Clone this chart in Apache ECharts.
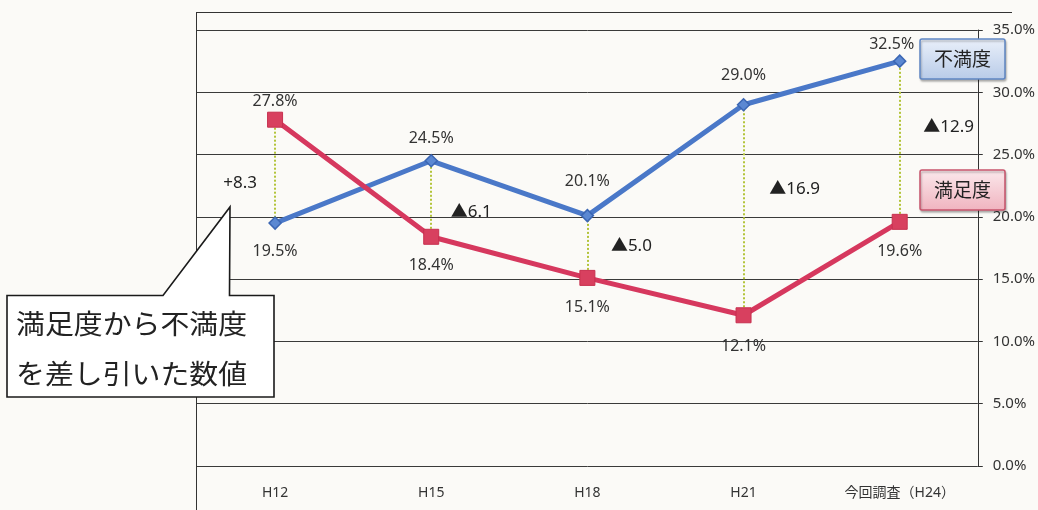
<!DOCTYPE html>
<html><head><meta charset="utf-8">
<script src="https://cdn.jsdelivr.net/npm/echarts@6/dist/echarts.min.js"></script>
<style>html,body{margin:0;padding:0;background:#fbfaf7;}#c{width:1038px;height:510px;}</style>
</head><body><div id="c"></div>
<script>
var categories = ['H12', 'H15', 'H18', 'H21', '今回調査（H24）'];
var dissatisfaction = [19.5, 24.5, 20.1, 29.0, 32.5];   // 不満度
var satisfaction = [27.8, 18.4, 15.1, 12.1, 19.6];      // 満足度
var yTicks = [0, 5, 10, 15, 20, 25, 30, 35];

// styling: label placement per point
var blueLabelPos = ['bottom', 'top', 'top', 'top', 'top'];
var blueLabelOff = [[0, 9], [0, -3], [0, -14], [0, -10], [-8, 3]];
var redLabelPos = ['top', 'bottom', 'bottom', 'bottom', 'bottom'];
var redLabelOff = [[0, 3], [0, 8], [0, 9], [0, 10], [0, 9]];
var diffOff = [[-35, 12], [40, 13], [44, -1], [51, -21], [49, -14]];

var FONT = '"Noto Sans", "Noto Sans CJK JP", sans-serif';
var JP = '"Noto Sans CJK JP", sans-serif';

function pct(v) { return v.toFixed(1) + '%'; }

var chart = echarts.init(document.getElementById('c'));

var blueData = dissatisfaction.map(function (v, i) {
  return { value: v, label: { position: blueLabelPos[i], offset: blueLabelOff[i] } };
});
var redData = satisfaction.map(function (v, i) {
  return { value: v, label: { position: redLabelPos[i], offset: redLabelOff[i] } };
});
var connectors = categories.map(function (c, i) {
  return [{ coord: [i, satisfaction[i]] }, { coord: [i, dissatisfaction[i]] }];
});

chart.setOption({
  backgroundColor: '#fbfaf7',
  animation: false,
  grid: { left: 197, right: 58, top: 30, bottom: 44 },
  xAxis: {
    type: 'category', data: categories, boundaryGap: true,
    axisLine: { show: false }, axisTick: { show: false },
    axisLabel: { margin: 20, fontSize: 14, color: '#333', fontFamily: FONT }
  },
  yAxis: {
    type: 'value', position: 'right', min: yTicks[0], max: yTicks[yTicks.length - 1], interval: 5,
    axisLine: { show: true, lineStyle: { color: '#333', width: 1 } },
    axisTick: { show: true, length: 5, lineStyle: { color: '#333' } },
    axisLabel: { margin: 15, fontSize: 15, color: '#333', fontFamily: FONT, formatter: function (v) { return pct(v); } },
    splitLine: { show: true, lineStyle: { color: '#3a3a3a', width: 1 } }
  },
  series: [
    {
      name: '不満度', type: 'line', data: blueData,
      symbol: 'diamond', symbolSize: 12,
      lineStyle: { color: '#4a78c8', width: 5 },
      itemStyle: { color: '#5b88d2', borderColor: '#3b66b3', borderWidth: 1.5 },
      label: { show: true, fontSize: 16, color: '#333', fontFamily: FONT, formatter: function (p) { return pct(p.value); } },
      z: 3
    },
    {
      name: '満足度', type: 'line', data: redData,
      symbol: 'rect', symbolSize: 15,
      lineStyle: { color: '#d6385e', width: 5 },
      itemStyle: { color: '#d8405f', borderColor: '#c7304f', borderWidth: 1 },
      label: { show: true, fontSize: 16, color: '#333', fontFamily: FONT, formatter: function (p) { return pct(p.value); } },
      markLine: {
        silent: true, symbol: ['none', 'none'], label: { show: false },
        lineStyle: { type: 'dotted', color: '#b3c43a', width: 2 },
        data: connectors, z: 1
      },
      z: 4
    }
  ]
});

var graphics = [];
// frame lines
graphics.push({ type: 'line', shape: { x1: 196.5, y1: 12, x2: 196.5, y2: 510 }, style: { stroke: '#333', lineWidth: 1 }, z: 10 });
graphics.push({ type: 'line', shape: { x1: 196, y1: 12.5, x2: 1012, y2: 12.5 }, style: { stroke: '#333', lineWidth: 1 }, z: 10 });

// differences (満足度 − 不満度), derived from the data
categories.forEach(function (c, i) {
  var d = Math.round((satisfaction[i] - dissatisfaction[i]) * 10) / 10;
  var txt = d > 0 ? '+' + d.toFixed(1) : '▲' + Math.abs(d).toFixed(1);
  var mid = (satisfaction[i] + dissatisfaction[i]) / 2;
  var p = chart.convertToPixel({ seriesIndex: 0 }, [i, mid]);
  graphics.push({
    type: 'text', x: p[0] + diffOff[i][0], y: p[1] + diffOff[i][1], z: 20,
    style: { text: txt, fill: '#222', font: '17px ' + FONT, align: 'center', verticalAlign: 'middle' }
  });
});

// legend boxes
function legendBox(y, name, c1, c2, stroke) {
  graphics.push({
    type: 'rect', shape: { x: 920, y: y, width: 85, height: 40, r: 2 }, z: 20,
    style: {
      fill: { type: 'linear', x: 0, y: 0, x2: 0, y2: 1, colorStops: [{ offset: 0, color: c1 }, { offset: 1, color: c2 }] },
      stroke: stroke, lineWidth: 1.5, shadowColor: 'rgba(0,0,0,0.25)', shadowOffsetX: 1, shadowOffsetY: 2, shadowBlur: 2
    }
  });
  graphics.push({
    type: 'text', x: 962.5, y: y + 20, z: 21,
    style: { text: name, fill: '#222', font: '19px ' + JP, align: 'center', verticalAlign: 'middle' }
  });
}
legendBox(39, '不満度', '#eaf0fa', '#b8cbe8', '#5f86c4');
legendBox(170, '満足度', '#fbe9ec', '#f0b3bf', '#c8546c');

// callout box
graphics.push({
  type: 'polygon', z: 30,
  shape: { points: [[7, 295.5], [163, 295.5], [230, 207], [229.5, 295.5], [274, 295.5], [274, 397], [7, 397]] },
  style: { fill: '#ffffff', stroke: '#1a1a1a', lineWidth: 1.6 }
});
graphics.push({
  type: 'text', x: 16, y: 324, z: 31, scaleX: 1.07,
  style: { text: '満足度から不満度', fill: '#222', font: '27px ' + JP, align: 'left', verticalAlign: 'middle' }
});
graphics.push({
  type: 'text', x: 16, y: 374, z: 31, scaleX: 1.07,
  style: { text: 'を差し引いた数値', fill: '#222', font: '27px ' + JP, align: 'left', verticalAlign: 'middle' }
});

chart.setOption({ graphic: graphics });
</script>
</body></html>
